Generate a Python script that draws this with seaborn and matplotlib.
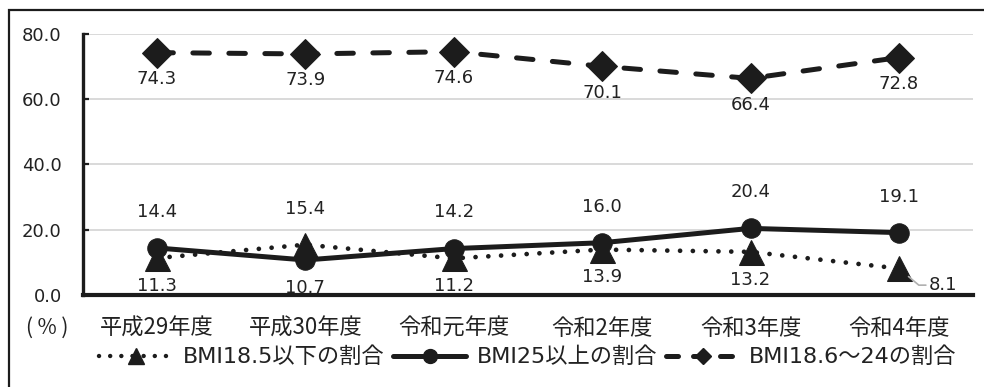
import matplotlib
matplotlib.use("Agg")
import matplotlib.pyplot as plt
from matplotlib.lines import Line2D
from matplotlib.patches import Rectangle
import pandas as pd
import seaborn as sns

years = ["平成29年度", "平成30年度", "令和元年度", "令和2年度", "令和3年度", "令和4年度"]
under_185 = [11.3, 15.4, 11.2, 13.9, 13.2, 8.1]
over_25 = [14.4, 10.7, 14.2, 16.0, 20.4, 19.1]
normal_range = [74.3, 73.9, 74.6, 70.1, 66.4, 72.8]
series_names = ["BMI18.5以下の割合", "BMI25以上の割合", "BMI18.6～24の割合"]
y_ticks = [0, 20, 40, 60, 80]

sns.set_theme(style="white")
mixed = ["DejaVu Sans", "Noto Sans CJK JP"]
cjk = ["Noto Sans CJK JP", "DejaVu Sans"]
plt.rcParams["font.family"] = mixed

df = pd.DataFrame({
    "pos": range(len(years)),
    "under": under_185,
    "over": over_25,
    "normal": normal_range,
})

ink = "#1c1c1c"
txt = "#222222"
fig = plt.figure(figsize=(9.84, 3.87), dpi=100)
ax = fig.add_axes([0.084, 0.238, 0.905, 0.674])

# outer frame
fig.patches.append(Rectangle((9 / 984, -0.05), 1.2, 1 - 10 / 387 + 0.05,
                             transform=fig.transFigure, fill=False,
                             edgecolor=ink, linewidth=1.6, zorder=0))

ax.yaxis.grid(True, color="#d9d9d9", linewidth=1.4, zorder=0)
ax.set_axisbelow(True)

sns.lineplot(data=df, x="pos", y="normal", ax=ax, color=ink, linewidth=3.6,
             linestyle=(0, (3.3, 3.9)), dash_capstyle="round",
             marker="D", markersize=15, markeredgecolor=ink, zorder=3)
sns.lineplot(data=df, x="pos", y="under", ax=ax, color=ink, linewidth=3.4,
             linestyle=(0, (0.01, 2.7)), dash_capstyle="round",
             marker="^", markersize=18, markeredgecolor=ink, zorder=3)
sns.lineplot(data=df, x="pos", y="over", ax=ax, color=ink, linewidth=3.6,
             marker="o", markersize=14, markeredgecolor=ink, zorder=4)

ax.set_xlim(-0.5, len(years) - 0.5)
ax.set_ylim(0, 80)
ax.set_yticks(y_ticks)
ax.set_yticklabels([f"{t:.1f}" for t in y_ticks], fontsize=13, color=txt)
ax.set_xticks(range(len(years)))
ax.set_xticklabels(years, fontsize=16, color=txt, family=cjk)
ax.set_xlabel("")
ax.set_ylabel("")
ax.tick_params(axis="y", which="both", left=True, direction="in", length=4,
               width=1.6, color=ink, pad=15)
ax.tick_params(axis="x", length=0, pad=16)

for side in ["top", "right"]:
    ax.spines[side].set_visible(False)
ax.spines["left"].set_color(ink)
ax.spines["left"].set_linewidth(2.4)
ax.spines["bottom"].set_color(ink)
ax.spines["bottom"].set_linewidth(3.0)

lab = dict(fontsize=13, color=txt, ha="center", va="center",
           textcoords="offset points")
for i, v in enumerate(normal_range):
    ax.annotate(f"{v:.1f}", (i, v), xytext=(0, -19), **lab)

# in the lower pair, the higher value is labelled above, the lower below
last = len(years) - 1
for i, (a, b) in enumerate(zip(under_185, over_25)):
    hi, lo = (a, b) if a > b else (b, a)
    ax.annotate(f"{hi:.1f}", (i, hi), xytext=(0, 26), **lab)
    if i == last:
        ax.annotate(f"{lo:.1f}", (i, lo), xytext=(32, -12),
                    arrowprops=dict(arrowstyle="-", color="#b0b0b0", lw=1.2,
                                    shrinkA=0, shrinkB=9,
                                    connectionstyle="angle,angleA=0,angleB=-40,rad=0"),
                    **lab)
    else:
        ax.annotate(f"{lo:.1f}", (i, lo), xytext=(0, -20), **lab)

fig.text(47 / 984, 1 - 328 / 387, "( % )", fontsize=15, color=txt,
         ha="center", va="center", family=cjk)

handles = [
    Line2D([], [], color=ink, linewidth=3.2, linestyle=(0, (0.01, 2.5)),
           dash_capstyle="round", marker="^", markersize=11),
    Line2D([], [], color=ink, linewidth=3.6, marker="o", markersize=10),
    Line2D([], [], color=ink, linewidth=3.6, linestyle=(0, (2.4, 3.0)),
           dash_capstyle="round", marker="D", markersize=8),
]
fig.legend(handles, series_names, loc="center", bbox_to_anchor=(528 / 984, 1 - 357 / 387),
           ncol=3, frameon=False, fontsize=16, handlelength=3.3,
           handletextpad=0.45, columnspacing=0.4, borderaxespad=0,
           labelcolor=txt)

fig.savefig("out.png", dpi=100)
